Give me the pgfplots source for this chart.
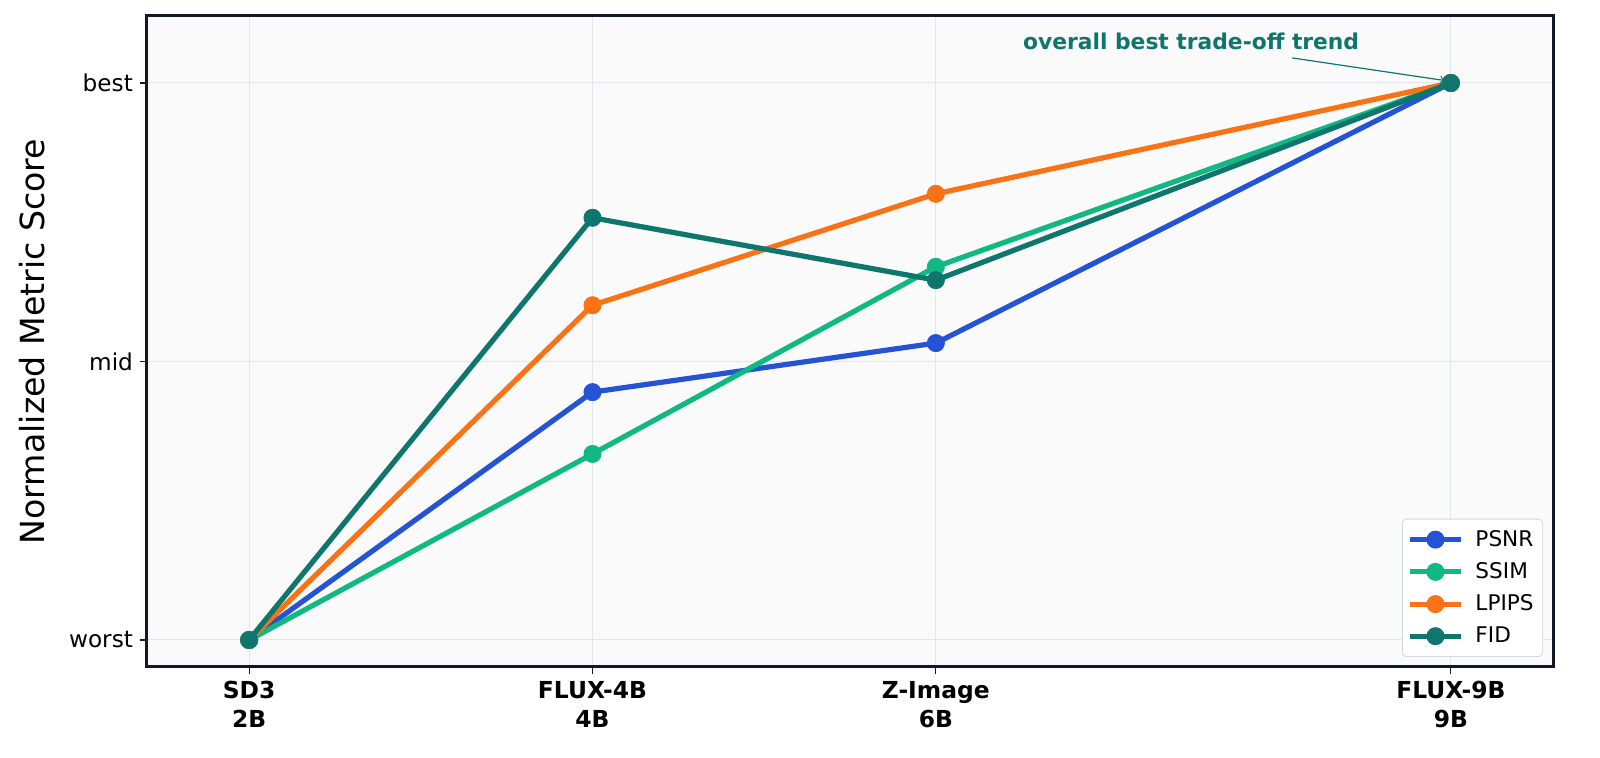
\documentclass[border=0pt]{standalone}
\usepackage{pgfplots}
\pgfplotsset{compat=1.18}
\usepackage{fontspec}
\setmainfont{DejaVu Sans}

\definecolor{cPSNR}{HTML}{2453D6}
\definecolor{cSSIM}{HTML}{10B981}
\definecolor{cLPIPS}{HTML}{F97316}
\definecolor{cFID}{HTML}{0F766E}
\definecolor{frame}{HTML}{111827}
\definecolor{gridc}{HTML}{E2E6EF}
\definecolor{bg}{HTML}{FAFAFA}
\definecolor{legbd}{HTML}{D3D7DE}

\pgfplotsset{
  metric/.style={line width=2.6pt, line join=round, mark=*, mark size=4.3pt,
    mark options={solid, line width=0.4pt, fill=#1, draw=#1}, color=#1,
    legend image code/.code={
      \draw[mark repeat=2, mark phase=2] plot coordinates {(0pt,0pt) (12.7pt,0pt) (25.4pt,0pt)};
    }},
}

\begin{document}
\begin{tikzpicture}
\begin{axis}[
  scale only axis,
  width=703pt, height=325.5pt,
  xmin=1.405, xmax=9.595,
  ymin=-0.0485, ymax=1.1203,
  axis background/.style={fill=bg},
  axis line style={draw=frame, line width=1.5pt},
  xtick={2,4,6,9},
  xticklabels={SD3\\2B, FLUX-4B\\4B, Z-Image\\6B, FLUX-9B\\9B},
  xticklabel style={font=\fontsize{11.7}{14.5}\selectfont\bfseries, align=center},
  ytick={0,0.5,1},
  yticklabels={worst,mid,best},
  yticklabel style={font=\fontsize{11.6}{14}\selectfont},
  tick align=outside,
  major tick length=3.5pt,
  tick style={draw=frame, line width=0.6pt},
  xtick pos=bottom, ytick pos=left,
  grid=major,
  major grid style={draw=gridc, line width=0.5pt},
  ylabel={Normalized Metric Score},
  every axis y label/.style={at={(axis description cs:-0.0818,0.5)}, rotate=90, anchor=center,
    font=\fontsize{16.6}{20}\selectfont},
  legend style={at={(0.9929,0.0154)}, anchor=south east, draw=legbd, fill=white,
    rounded corners=2pt, font=\fontsize{10.8}{13}\selectfont,
    inner xsep=2.5pt, inner ysep=3.5pt, row sep=2.6pt,
    nodes={inner sep=2pt, anchor=west},
    /tikz/every odd column/.append style={column sep=4pt}},
  legend cell align=left,
]
\addplot[metric=cPSNR] coordinates {(2,0) (4,0.445) (6,0.533) (9,1)};
\addlegendentry{PSNR}
\addplot[metric=cSSIM] coordinates {(2,0) (4,0.334) (6,0.670) (9,1)};
\addlegendentry{SSIM}
\addplot[metric=cLPIPS] coordinates {(2,0) (4,0.601) (6,0.801) (9,1)};
\addlegendentry{LPIPS}
\addplot[metric=cFID] coordinates {(2,0) (4,0.758) (6,0.646) (9,1)};
\addlegendentry{FID}

\node[font=\fontsize{10.9}{13}\selectfont\bfseries, text=cFID] at (axis cs:7.487,1.074) {overall best trade-off trend};
\draw[->, cFID, line width=0.6pt] (axis cs:8.076,1.045) -- (axis cs:8.962,1.0045);

\coordinate (sw) at (rel axis cs:0,0);
\coordinate (ne) at (rel axis cs:1,1);
\end{axis}
\pgfresetboundingbox
\path ([shift={(-73.5pt,-45.5pt)}]sw) rectangle ([shift={(23.5pt,8pt)}]ne);
\end{tikzpicture}
\end{document}
